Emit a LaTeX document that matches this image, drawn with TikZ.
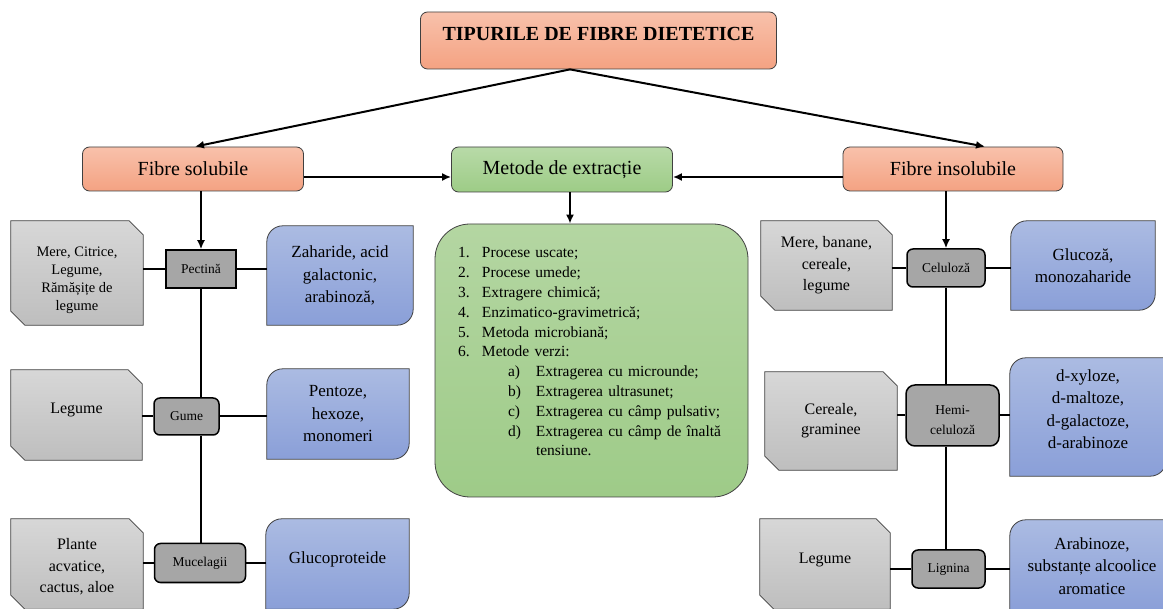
\documentclass[tikz,border=0pt]{standalone}
\usepackage{fontspec}
\setmainfont{Liberation Serif}
\usetikzlibrary{arrows.meta,backgrounds}

\definecolor{salmonT}{RGB}{248,193,171}
\definecolor{salmonB}{RGB}{244,162,130}
\definecolor{greenT}{RGB}{184,218,168}
\definecolor{greenB}{RGB}{157,204,134}
\definecolor{listT}{RGB}{180,214,162}
\definecolor{listB}{RGB}{158,203,136}
\definecolor{blueT}{RGB}{171,187,226}
\definecolor{blueB}{RGB}{138,159,216}
\definecolor{grayT}{RGB}{215,215,215}
\definecolor{grayB}{RGB}{190,190,190}
\definecolor{kindgray}{RGB}{166,166,166}
\definecolor{edge}{RGB}{64,64,64}

% gray source box: top-right and bottom-left corners cut off
\newcommand\snipshape[1]{%
  \path[snipfill] ([yshift=14pt]#1.south west) -- (#1.north west)
    -- ([xshift=-14pt]#1.north east) -- ([yshift=-14pt]#1.north east)
    -- (#1.south east) -- ([xshift=14pt]#1.south west) -- cycle;}
% blue product box: top-left and bottom-right corners rounded
\newcommand\diagshape[1]{%
  \path[roundfill] (#1.south west) -- ([yshift=-16pt]#1.north west)
    arc[start angle=180,end angle=90,radius=16pt] -- (#1.north east)
    -- ([yshift=16pt]#1.south east)
    arc[start angle=0,end angle=-90,radius=16pt] -- cycle;}

\begin{document}
\begin{tikzpicture}[x=1pt,y=1pt,
  conn/.style={line width=2pt,-{Latex[length=9pt,width=8pt]}},
  link/.style={line width=2pt},
  fibrebox/.style={draw=edge,line width=0.8pt,top color=salmonT,bottom color=salmonB,
    rounded corners=7pt,inner sep=0pt,font=\fontsize{20}{24}\selectfont},
  methodbox/.style={draw=edge,line width=0.8pt,top color=greenT,bottom color=greenB,
    rounded corners=7pt,inner sep=0pt,font=\fontsize{20}{24}\selectfont},
  listbox/.style={draw=edge,line width=0.8pt,top color=listT,bottom color=listB,
    rounded corners=35pt,inner ysep=0pt,inner xsep=23pt,align=left,
    font=\fontsize{15.5}{19.8}\selectfont},
  kindbox/.style={draw=black,line width=1.5pt,fill=kindgray,rounded corners=6pt,
    inner sep=0pt,align=center,font=\fontsize{13.5}{20}\selectfont},
  sourcebox/.style={inner sep=0pt,align=center,font=\fontsize{16}{21.5}\selectfont},
  productbox/.style={inner sep=0pt,align=center,font=\fontsize{17}{22.5}\selectfont},
  snipfill/.style={draw=edge,line width=0.8pt,top color=grayT,bottom color=grayB},
  roundfill/.style={draw=edge,line width=0.8pt,top color=blueT,bottom color=blueB},
]
\useasboundingbox (0,0) rectangle (1163,-609);
\clip (0,0) rectangle (1163,-609);

% top level
\node[fibrebox,minimum width=356pt,minimum height=57pt,
  font=\bfseries\fontsize{20}{24}\selectfont,text height=13pt,text depth=13pt]
  (title) at (598.5,-40.5) {TIPURILE DE FIBRE DIETETICE};
\node[fibrebox,minimum width=221pt,minimum height=44pt] (solubile) at (193,-169) {Fibre solubile};
\node[methodbox,minimum width=221pt,minimum height=45pt] (metode) at (562,-169.5) {Metode de extracție};
\node[fibrebox,minimum width=220pt,minimum height=44pt] (insolubile) at (953,-169) {Fibre insolubile};

% extraction methods
\node[listbox,minimum width=313pt,minimum height=273pt,text width=267pt] (list) at (591.5,-360.5) {%
\begin{tabular}{@{}l@{}}
\makebox[24pt][l]{1.}Procese uscate;\\
\makebox[24pt][l]{2.}Procese umede;\\
\makebox[24pt][l]{3.}Extragere chimică;\\
\makebox[24pt][l]{4.}Enzimatico-gravimetrică;\\
\makebox[24pt][l]{5.}Metoda microbiană;\\
\makebox[24pt][l]{6.}Metode verzi:\\
\hspace*{50pt}\makebox[28pt][l]{a)}Extragerea cu microunde;\\
\hspace*{50pt}\makebox[28pt][l]{b)}Extragerea ultrasunet;\\
\hspace*{50pt}\makebox[28pt][l]{c)}Extragerea cu câmp pulsativ;\\
\hspace*{50pt}\makebox[28pt][l]{d)}Extragerea cu câmp de înaltă\\
\hspace*{78pt}tensiune.\rule[-21pt]{0pt}{1pt}
\end{tabular}};

% soluble fibres
\node[kindbox,sharp corners,minimum width=70pt,minimum height=38pt] (pectina) at (201,-269) {Pectină};
\node[kindbox,minimum width=65pt,minimum height=37pt] (gume) at (186.5,-416.5) {Gume};
\node[kindbox,minimum width=91pt,minimum height=39pt] (mucelagii) at (200,-563) {Mucelagii};

\node[sourcebox,minimum width=132pt,minimum height=104pt,font=\fontsize{14.5}{18}\selectfont]
  (g1) at (77,-273) {\rule{0pt}{24pt}Mere, Citrice,\\Legume,\\Rămășițe de\\legume};
\node[sourcebox,minimum width=131pt,minimum height=90pt] (g2) at (76.5,-415) {Legume\rule[-13pt]{0pt}{1pt}};
\node[sourcebox,minimum width=132pt,minimum height=90pt] (g3) at (77,-564) {\rule{0pt}{17pt}Plante\\acvatice,\\cactus, aloe};

\node[productbox,minimum width=146pt,minimum height=99pt] (b1) at (340,-275.5) {Zaharide, acid\\galactonic,\\arabinoză,};
\node[productbox,minimum width=142pt,minimum height=90pt] (b2) at (338,-414) {Pentoze,\\hexoze,\\monomeri};
\node[productbox,minimum width=143pt,minimum height=90pt] (b3) at (337.5,-564) {Glucoproteide\rule[-12pt]{0pt}{1pt}};

% insoluble fibres
\node[kindbox,minimum width=78pt,minimum height=38pt] (celuloza) at (946,-268) {Celuloză};
\node[kindbox,rounded corners=9pt,minimum width=93pt,minimum height=61pt] (hemi) at (952.5,-415.5) {\rule{0pt}{18pt}Hemi-\\celuloză};
\node[kindbox,minimum width=73pt,minimum height=38pt] (lignina) at (948.5,-569) {Lignina};

\node[sourcebox,minimum width=131pt,minimum height=89pt] (rg1) at (826.5,-265.5) {Mere, banane,\\cereale,\\legume};
\node[sourcebox,minimum width=132pt,minimum height=98pt,font=\fontsize{16}{20}\selectfont] (rg2) at (831,-421) {Cereale,\\graminee};
\node[sourcebox,minimum width=130pt,minimum height=90pt] (rg3) at (825,-564) {Legume\rule[-12pt]{0pt}{1pt}};

\node[productbox,minimum width=144pt,minimum height=89pt] (rb1) at (1083,-265.5) {Glucoză,\\monozaharide};
\node[productbox,minimum width=156pt,minimum height=118pt] (rb2) at (1088,-417) {d-xyloze,\\d-maltoze,\\d-galactoze,\\d-arabinoze\rule[-16pt]{0pt}{1pt}};
\node[productbox,minimum width=164pt,minimum height=92pt] (rb3) at (1092,-566) {Arabinoze,\\substanțe alcoolice\\aromatice};

% shaped backgrounds of the source and product boxes
\begin{scope}[on background layer]
  \fill[white] (0,0) rectangle (1163,-609);
  \clip (0,0) rectangle (1163,-609);
  \snipshape{g1}\snipshape{g2}\snipshape{g3}
  \snipshape{rg1}\snipshape{rg2}\snipshape{rg3}
  \diagshape{b1}\diagshape{b2}\diagshape{b3}
  \diagshape{rb1}\diagshape{rb2}\diagshape{rb3}
\end{scope}

% connectors
\draw[conn] ([xshift=-28.5pt]title.south) -- ([xshift=2pt]solubile.north);
\draw[conn] ([xshift=-28.5pt]title.south) -- ([xshift=32pt]insolubile.north);
\draw[conn] ([yshift=-8pt]solubile.east) -- ([yshift=-8pt]solubile.east -| metode.west);
\draw[conn] ([yshift=-8pt]insolubile.west) -- ([yshift=-8pt]insolubile.west -| metode.east);
\draw[conn] ([xshift=8pt]metode.south) -- ([xshift=8pt]metode.south |- list.north);

\draw[conn] (pectina.north |- solubile.south) -- (pectina.north);
\draw[link] (pectina.south) -- (pectina.south |- gume.north);
\draw[link] (pectina.south |- gume.south) -- (pectina.south |- mucelagii.north);
\draw[link] (g1.east |- pectina.west) -- (pectina.west);
\draw[link] (pectina.east) -- (pectina.east -| b1.west);
\draw[link] (g2.east |- gume.west) -- (gume.west);
\draw[link] (gume.east) -- (gume.east -| b2.west);
\draw[link] (g3.east |- mucelagii.west) -- (mucelagii.west);
\draw[link] (mucelagii.east) -- (mucelagii.east -| b3.west);

\draw[conn] (celuloza.north |- insolubile.south) -- (celuloza.north);
\draw[link] (celuloza.south) -- (celuloza.south |- hemi.north);
\draw[link] (celuloza.south |- hemi.south) -- (celuloza.south |- lignina.north);
\draw[link] (rg1.east |- celuloza.west) -- (celuloza.west);
\draw[link] (celuloza.east) -- (celuloza.east -| rb1.west);
\draw[link] (rg2.east |- hemi.west) -- (hemi.west);
\draw[link] (hemi.east) -- (hemi.east -| rb2.west);
\draw[link] (rg3.east |- lignina.west) -- (lignina.west);
\draw[link] (lignina.east) -- (lignina.east -| rb3.west);
\end{tikzpicture}
\end{document}
